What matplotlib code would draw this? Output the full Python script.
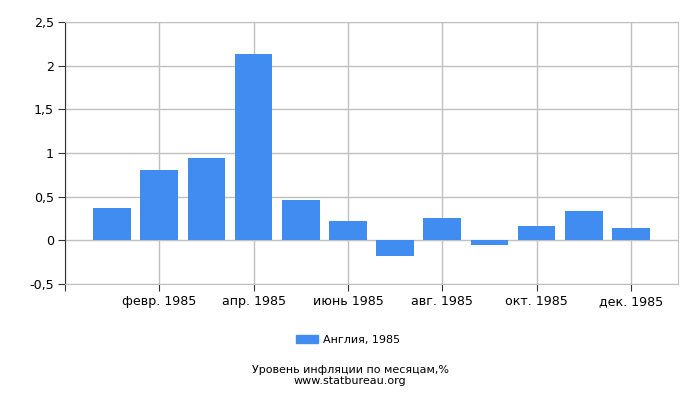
import matplotlib
matplotlib.use("Agg")
import matplotlib.pyplot as plt
from matplotlib.patches import Patch


# Data
months = ["янв. 1985", "февр. 1985", "март 1985", "апр. 1985", "май 1985", "июнь 1985",
          "июль 1985", "авг. 1985", "сент. 1985", "окт. 1985", "нояб. 1985", "дек. 1985"]
values = [0.37, 0.80, 0.94, 2.13, 0.46, 0.22, -0.18, 0.26, -0.05, 0.16, 0.34, 0.14]
yticks = [-0.5, 0, 0.5, 1, 1.5, 2, 2.5]
ytick_labels = ["-0,5", "0", "0,5", "1", "1,5", "2", "2,5"]
legend_label = "Англия, 1985"

bar_color = "#418cf0"
grid_color = "#c0c0c0"

fig = plt.figure(figsize=(7, 4), dpi=100)
ax = fig.add_axes([65 / 700, 116 / 400, 613 / 700, 262 / 400])

x = list(range(len(values)))
ax.bar(x, values, width=0.8, color=bar_color, zorder=3)

ax.set_xlim(-1, 12)
ax.set_ylim(-0.5, 2.5)

# x ticks: left edge + every second month
xt = [-1] + x[1::2]
ax.set_xticks(xt)
ax.set_xticklabels([""] + months[1::2], fontsize=9.1)
ax.set_yticks(yticks)
ax.set_yticklabels(ytick_labels, fontsize=9.1)

ax.grid(True, color=grid_color, linewidth=1, zorder=0)
ax.tick_params(axis="both", direction="out", length=5, color="#333333", pad=3)
for side in ["top", "right"]:
    ax.spines[side].set_color(grid_color)
ax.spines["left"].set_color("#333333")
ax.spines["bottom"].set_color(grid_color)

# legend
fig.legend(handles=[Patch(color=bar_color, label=legend_label)],
           loc="center", bbox_to_anchor=(348 / 700, 1 - 340 / 400),
           frameon=False, fontsize=8, handlelength=2.0, handleheight=0.8,
           handletextpad=0.4)

fig.text(0.5, 1 - 370 / 400, "Уровень инфляции по месяцам,%", ha="center", va="center", fontsize=8)
fig.text(0.5, 1 - 381.5 / 400, "www.statbureau.org", ha="center", va="center", fontsize=8)

fig.savefig("out.png", dpi=100)
